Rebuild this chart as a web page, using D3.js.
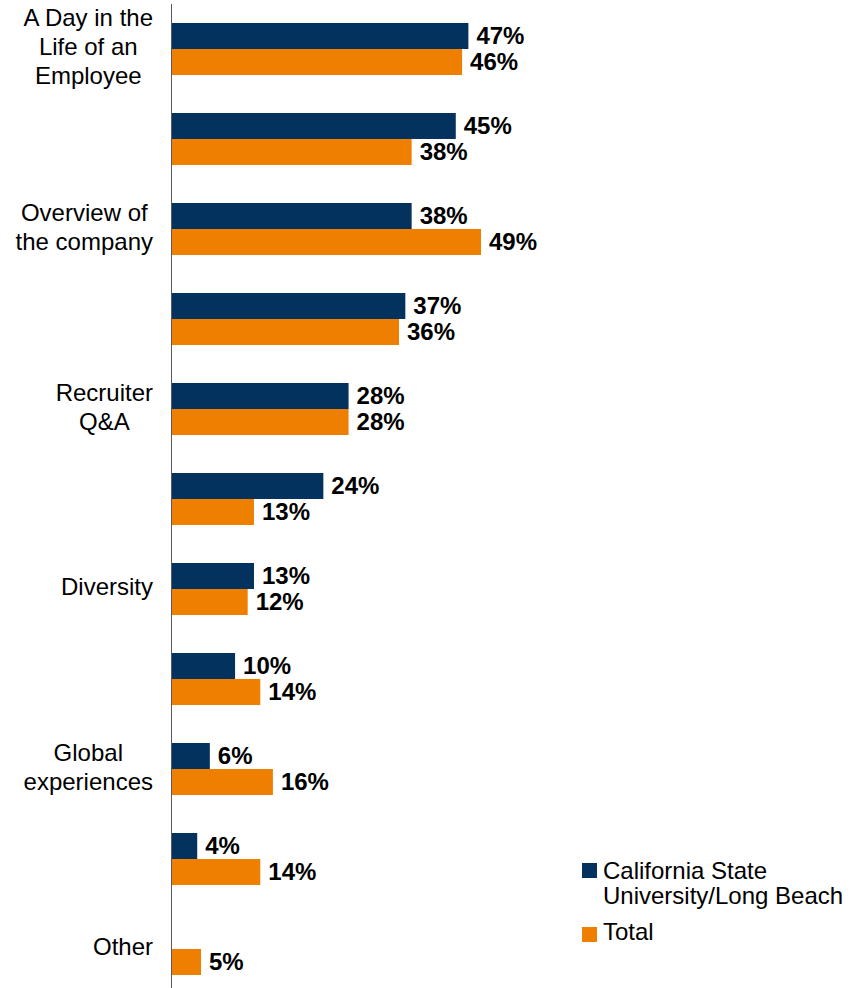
<!DOCTYPE html>
<html><head><meta charset="utf-8">
<script src="https://cdn.jsdelivr.net/npm/d3@7"></script>
<style>body{margin:0;background:#fff}svg{display:block}text{font-family:"Liberation Sans",Arial,sans-serif}</style>
</head><body>
<script>
const categories = ["A Day in the|Life of an|Employee", "", "Overview of|the company", "", "Recruiter|Q&A", "", "Diversity", "", "Global|experiences", "", "Other"];
const seriesNames = ["California State University/Long Beach", "Total"];
const legendLines = ["California State", "University/Long Beach"];
const csulb = [47, 45, 38, 37, 28, 24, 13, 10, 6, 4, null];
const total = [46, 38, 49, 36, 28, 13, 12, 14, 16, 14, 4.6];
const colors = ["#03325f", "#ef7f00"];

const W = 858, H = 988;
const svg = d3.select("body").append("svg").attr("width", W).attr("height", H);

const xs = d3.scaleLinear().domain([0, 49]).range([172, 481]);
const y = d3.scaleBand().domain(d3.range(categories.length)).range([4, 994]).paddingInner(0.4222).paddingOuter(0.2111);
const ys = d3.scaleBand().domain([0, 1]).range([0, y.bandwidth()]);

const data = [csulb, total];
const g = svg.append("g");
data.forEach((vals, si) => {
  const sel = g.selectAll(".b" + si).data(vals.map((v, i) => ({v, i})).filter(d => d.v != null)).enter();
  sel.append("rect")
    .attr("x", xs(0)).attr("y", d => y(d.i) + ys(si))
    .attr("width", d => xs(d.v) - xs(0)).attr("height", ys.bandwidth())
    .attr("fill", colors[si]);
  sel.append("text")
    .attr("x", d => xs(d.v) + 8).attr("y", d => y(d.i) + ys(si) + ys.bandwidth() / 2)
    .attr("dy", "0.34em").attr("font-size", 24).attr("font-weight", "bold").attr("fill", "#000")
    .text(d => Math.round(d.v) + "%");
});

// axis line
svg.append("line").attr("x1", 171.5).attr("x2", 171.5).attr("y1", 4).attr("y2", H).attr("stroke", "#595959").attr("stroke-width", 1);

// category labels
categories.forEach((c, i) => {
  if (!c) return;
  const lines = c.split("|");
  const t = svg.append("text").attr("font-size", 24).attr("fill", "#000").attr("text-anchor", "middle");
  const cy = y(i) + y.bandwidth() / 2 - 2;
  const tsp = lines.map((l, k) => t.append("tspan").attr("y", cy + (k - (lines.length - 1) / 2) * 29).attr("dy", "0.34em").text(l));
  let maxW = 0;
  tsp.forEach(s => { maxW = Math.max(maxW, s.node().getComputedTextLength()); });
  tsp.forEach(s => s.attr("x", 153 - maxW / 2));
});

// legend
const leg = svg.append("g");
leg.append("rect").attr("x", 582).attr("y", 863).attr("width", 15).attr("height", 15).attr("fill", colors[0]);
leg.append("text").attr("x", 603).attr("y", 879).attr("font-size", 24).attr("fill", "#000").text(legendLines[0]);
leg.append("text").attr("x", 603).attr("y", 904).attr("font-size", 24).attr("fill", "#000").text(legendLines[1]);
leg.append("rect").attr("x", 582).attr("y", 927).attr("width", 15).attr("height", 15).attr("fill", colors[1]);
leg.append("text").attr("x", 603).attr("y", 940).attr("font-size", 24).attr("fill", "#000").text(seriesNames[1]);
</script>
</body></html>
